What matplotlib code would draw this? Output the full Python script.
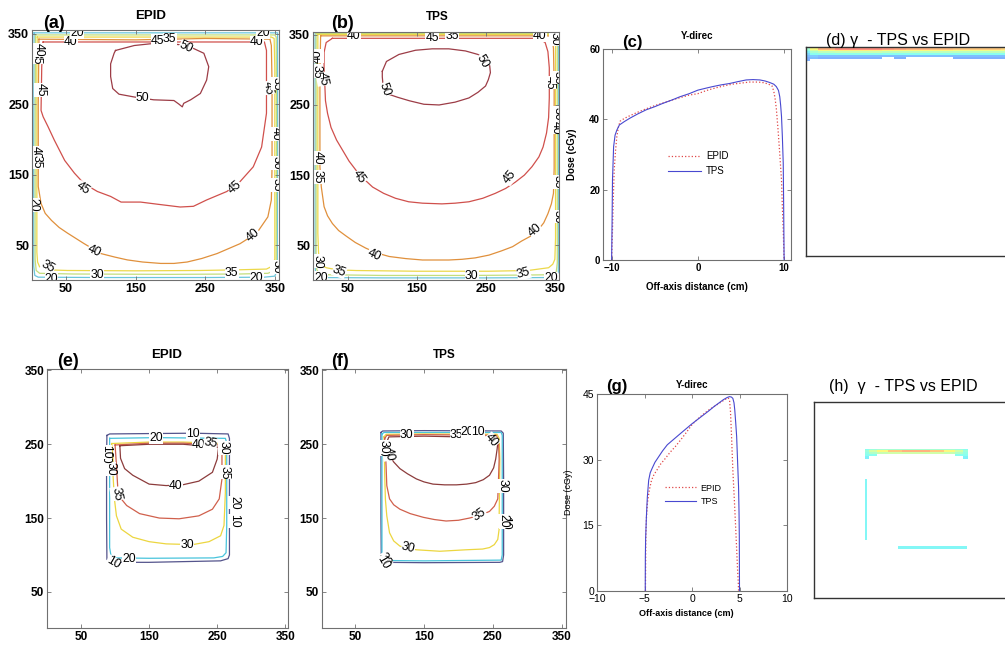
import numpy as np
import matplotlib
matplotlib.use('Agg')
import matplotlib.pyplot as plt
from matplotlib.colors import Normalize

plt.rcParams['font.family'] = ['Liberation Sans', 'DejaVu Sans']

W, H = 1005, 647
nan = np.nan

# ---- isodose lines, EPID 20x20 field (a) ----
a_50 = [(121, 326), (148, 333), (186, 337), (224, 333), (248, 322), (255, 303), (252, 284), (243, 265),
        (229, 256), (219, 251), (217, 246), (212, 250), (205, 255), (176, 256), (148, 260), (126, 264),
        (117, 272), (114, 289), (114, 307), (119, 322), (121, 326)]
a_45 = [(17, 338), (15, 303), (14, 241), (17, 232), (24, 218), (33, 199), (48, 170), (62, 152), (76, 137),
        (95, 126), (114, 119), (129, 111), (157, 111), (181, 108), (214, 104), (233, 105), (252, 114),
        (281, 126), (300, 140), (319, 161), (331, 189), (338, 237), (338, 279), (338, 326), (335, 338),
        (17, 338)]
a_40 = [(11, 342), (10, 250), (10, 208), (10, 133), (14, 109), (20, 95), (29, 85), (40, 75), (52, 67),
        (76, 52), (100, 38), (120, 33), (138, 29), (160, 26), (186, 24), (205, 24), (224, 26), (245, 31),
        (267, 38), (300, 52), (324, 67), (340, 90), (345, 114), (346, 160), (346, 208), (346, 280),
        (345, 333), (343, 342), (250, 343), (150, 341), (11, 342)]
a_35 = [(8.5, 345), (8, 300), (8, 150), (8, 40), (9, 26), (12, 19), (20, 15), (52, 14), (150, 13.5),
        (243, 14), (300, 15), (338, 16), (346, 20), (350, 30), (350, 150), (350, 300), (349, 343),
        (345, 345), (8.5, 345)]
a_30 = [(6, 348), (5.5, 200), (5.5, 30), (7, 14), (12, 10), (60, 9), (200, 8.5), (300, 9), (340, 10),
        (350, 14), (352, 25), (352.5, 200), (352, 345), (350, 348), (6, 348)]
a_20 = [(4, 351), (3.5, 200), (3.5, 20), (5, 7), (10, 4.5), (100, 4), (250, 4), (335, 4.5), (350, 6),
        (353.5, 15), (354, 200), (354, 351), (4, 351)]
a_labels = [(57, 338, '40', 0), (66, 351, '20', 0), (324, 338, '40', 0), (333, 351, '20', 0),
            (182, 340, '45', 0), (199, 342, '35', 0), (160, 259, '50', 0), (222, 330, '50', -25),
            (13, 270, '45', -90), (8, 316, '35', -90), (10, 327, '40', -90), (6, 181, '40', -90),
            (7, 168, '35', -90), (3, 107, '20', -90), (74, 130, '45', -35), (293, 132, '45', 40),
            (340, 273, '45', -80), (353, 279, '35', -90), (351, 208, '40', -90), (352, 166, '30', -90),
            (352, 135, '35', -90), (90, 41, '40', -25), (319, 64, '40', 40), (24, 19, '35', -30),
            (95, 8, '30', 0), (288, 10, '35', 0), (29, 2, '20', 0), (324, 4, '20', 0), (352, 19, '30', -90)]

# ---- isodose lines, TPS 20x20 field (b) ----
b_50 = [(100, 298), (106, 312), (124, 322), (148, 328), (172, 330), (196, 330), (220, 327), (238, 322),
        (249, 315), (255, 306), (256, 296), (253, 286), (249, 277), (238, 268), (225, 260), (205, 254),
        (182, 250), (160, 251), (139, 256), (122, 261), (110, 265), (103, 272), (101, 279), (100, 290),
        (100, 298)]
b_45 = [(28, 345), (19, 339), (16, 325), (16, 303), (17, 280), (18, 256), (21, 238), (26, 218), (34, 200),
        (43, 185), (52, 170), (62, 157), (74, 144), (86, 133), (102, 124), (119, 117), (138, 112),
        (158, 110), (186, 109), (205, 110), (225, 112), (245, 117), (263, 124), (278, 131), (292, 140),
        (305, 150), (316, 162), (326, 176), (332, 190), (337, 210), (340, 232), (341, 260), (341, 303),
        (339, 326), (335, 339), (325, 345), (28, 345)]
b_40 = [(11, 348.5), (10, 300), (10, 200), (10, 162), (12, 133), (16, 105), (21, 92), (28, 81), (37, 71),
        (48, 63), (61, 54), (76, 46), (92, 39), (110, 34), (134, 31), (158, 29), (196, 29), (215, 30),
        (234, 32), (254, 36), (272, 42), (288, 48), (301, 56), (314, 63), (325, 72), (333, 82), (339, 95),
        (344, 109), (347, 124), (348, 160), (348, 208), (348, 280), (347, 331), (345, 346), (340, 348.5),
        (11, 348.5)]
b_35 = [(7, 350.5), (7, 200), (7, 67), (8, 40), (9, 29), (12, 22), (19, 18), (35, 15), (62, 14), (150, 13),
        (253, 13), (310, 14), (340, 18), (346, 23), (349, 30), (350, 60), (350, 200), (350, 345),
        (348, 350.5), (7, 350.5)]
b_30 = [(4.5, 352), (4.5, 200), (4.5, 30), (5.5, 15), (9, 10), (20, 8), (100, 7), (229, 7), (300, 7.5),
        (345, 8), (351, 12), (352.5, 25), (352.5, 200), (352.5, 345), (351, 352), (4.5, 352)]
b_20 = [(3, 353.5), (3, 20), (4, 7), (8, 4), (100, 3.5), (250, 3.5), (340, 4), (351, 6), (354, 12),
        (354, 353.5), (3, 353.5)]
b_labels = [(59, 348, '40', 0), (172, 346, '45', 0), (201, 349, '35', 0), (327, 348, '40', 0),
            (349, 344, '30', -90), (244, 312, '50', -60), (103, 272, '50', -70), (14, 287, '45', -80),
            (7, 320, '40', 90), (5, 298, '35', -90), (7, 175, '40', -90), (6, 147, '35', -90),
            (67, 147, '45', -55), (284, 147, '45', 50), (342, 282, '45', -90), (353, 289, '35', -90),
            (351, 218, '40', -90), (353, 238, '30', -90), (353, 140, '35', -90), (353, 91, '30', -90),
            (88, 36, '40', -25), (320, 72, '40', 40), (7, 27, '30', -90), (38, 13, '35', -20),
            (229, 6, '30', 0), (304, 10, '35', 15), (12, 4, '20', 0), (344, 3, '20', 0)]

# ---- isodose lines, EPID 10x10 field (e) ----
e_40 = [(107, 248), (108, 231), (114, 217), (126, 208), (150, 196), (175, 194), (199, 195), (223, 200),
        (243, 212), (250, 230), (252, 246), (200, 250), (150, 250), (107, 248)]
e_35 = [(100, 249), (102, 222), (104, 190), (109, 176), (117, 167), (136, 156), (165, 150), (194, 149),
        (223, 153), (243, 162), (253, 176), (257, 203), (257, 235), (256, 249), (200, 251.5), (150, 251.5),
        (100, 249)]
e_30 = [(95, 251), (97, 230), (97, 208), (99, 176), (102, 153), (109, 135), (126, 124), (150, 118),
        (175, 115), (214, 114), (238, 118), (255, 126), (260, 140), (262, 185), (262, 240), (259, 251),
        (200, 253), (150, 253), (95, 251)]
e_20 = [(92, 258), (160, 259), (262, 258), (264, 252), (264, 200), (264, 140), (263, 103), (258, 98),
        (245, 96), (150, 95.5), (100, 96), (94, 99), (92, 110), (92, 200), (92, 258)]
e_10 = [(88, 262), (92, 264), (150, 264.5), (215, 265), (266, 264), (268, 258), (268, 200), (268, 140),
        (268, 100), (266, 95), (255, 92), (150, 90), (98, 90), (92, 91), (88, 94), (87.5, 150),
        (87.5, 230), (88, 262)]
e_labels = [(160, 259, '20', 0), (215, 264, '10', 0), (223, 249, '40', 0), (240, 251, '35', -10),
            (260, 245, '30', -90), (261, 212, '35', -90), (275, 171, '20', -90), (275, 146, '10', -90),
            (189, 193, '40', 0), (206, 114, '30', 0), (121, 95, '20', 0), (97, 89, '10', -30),
            (102, 183, '35', -80), (93, 217, '30', -90), (86, 233, '20', -90), (87, 240, '10', -90)]

# ---- isodose lines, TPS 10x10 field (f) ----
f_40 = [(96, 253), (98, 243), (100, 235), (106, 226), (115, 217), (126, 210), (139, 203), (150, 199),
        (163, 196), (180, 195), (197, 195), (212, 196), (225, 198), (236, 202), (245, 208), (251, 218),
        (254, 230), (256, 243), (257, 251), (254, 259), (150, 261), (99, 260), (96, 253)]
f_35 = [(93, 258), (95, 220), (96, 194), (100, 176), (106, 168), (115, 162), (130, 156), (149, 151),
        (165, 148), (182, 146), (200, 147), (216, 150), (232, 154), (245, 159), (252, 166), (257, 176),
        (258, 200), (259, 230), (258, 255), (255, 262), (150, 263), (96, 262), (93, 258)]
f_30 = [(92, 260), (93, 208), (94, 175), (96, 153), (100, 130), (106, 119), (115, 112), (127, 109),
        (139, 107), (173, 105), (211, 107), (235, 108), (245, 110), (252, 114), (257, 121), (259, 135),
        (259, 149), (260, 230), (259, 258), (256, 263.5), (150, 264), (95, 263.5), (92, 260)]
f_20 = [(89, 264), (92, 266), (262, 266), (263.5, 262), (263.5, 100), (262, 93), (150, 92), (92, 92.5),
        (89, 95), (89, 264)]
f_10 = [(87.5, 266), (90, 268), (150, 268.5), (262, 268), (265, 265), (265.5, 200), (265.5, 100),
        (264, 91), (260, 90), (150, 89.5), (92, 90), (88, 92), (87.5, 150), (87.5, 266)]
f_labels = [(125, 263, '30', 0), (197, 263, '35', 0), (213, 266, '20', 0), (228, 266, '10', 0),
            (248, 255, '40', -50), (99, 237, '40', -80), (89, 243, '20', -90), (92, 246, '30', -90),
            (264, 194, '30', -90), (230, 155, '35', 35), (127, 109, '30', -15), (268, 144, '10', -90),
            (265, 146, '20', -90), (93, 94, '20', -60), (91, 90, '10', -60)]

# ---- Y-direction dose profiles (cGy) ----
c_x_tps = [-10, -9.95, -9.9, -9.77, -9.6, -9.4, -9.1, -8.5, -7.9, -7, -6, -5, -4.1, -3, -2.1, -1, 0, 1,
           1.7, 2.7, 3.7, 4.6, 5.6, 6.4, 7.2, 7.8, 8.3, 8.8, 9.1, 9.35, 9.5, 9.6, 9.7, 9.8, 9.9, 9.95, 10]
c_y_tps = [0, 10, 22.7, 32.2, 35.5, 36.9, 38.4, 39.4, 40.3, 41.5, 42.7, 43.6, 44.5, 45.5, 46.4, 47.3, 48.3,
           48.9, 49.3, 49.8, 50.2, 50.7, 51.2, 51.3, 51.2, 50.9, 50.5, 50.0, 49.3, 48.2, 46.4, 44, 40.8,
           35, 27.5, 15, 0]
c_x_epid = [-10, -9.9, -9.8, -9.7, -9.55, -9.4, -9.2, -9.0, -8.5, -8, -7, -6, -5, -4, -3, -2, -1, 0, 1,
            2, 3, 4, 5, 6, 7, 7.7, 8.2, 8.6, 8.8, 8.95, 9.1, 9.3, 9.5, 9.7, 9.8, 9.9, 10]
c_y_epid = [0, 8.5, 18, 25.6, 31, 35, 38, 39.5, 40.3, 40.9, 42, 43, 43.9, 44.7, 45.5, 46.2, 46.9, 47.3,
            48.2, 48.9, 49.5, 50.0, 50.3, 50.6, 50.6, 50.4, 50.0, 49.5, 48, 46, 43, 37, 30, 22.7, 15,
            8.5, 0]

g_x_tps = [-4.92, -4.91, -4.88, -4.8, -4.7, -4.56, -4.4, -4.2, -3.9, -3.5, -3.1, -2.6, -1.9, -1.2, -0.6,
           0, 0.6, 1.2, 1.8, 2.3, 2.8, 3.3, 3.7, 3.95, 4.15, 4.3, 4.42, 4.5, 4.6, 4.7, 4.8, 4.9, 4.95,
           4.98, 5.0]
g_y_tps = [0, 7.8, 12, 17, 21.5, 25.3, 27, 28, 29.4, 30.7, 32, 33.4, 34.7, 36, 37.1, 38.2, 39.2, 40.2,
           41.2, 42.1, 42.9, 43.7, 44.2, 44.4, 44.3, 44.0, 43, 41.4, 38.5, 35.3, 29.5, 23.8, 18, 12.4, 0]
g_x_epid = [-4.9, -4.88, -4.86, -4.8, -4.7, -4.5, -4.26, -4.0, -3.7, -3.3, -2.8, -2.3, -1.75, -1.2, -0.6,
            0, 0.6, 1.2, 1.8, 2.3, 2.8, 3.3, 3.6, 3.75, 3.85, 3.95, 4.05, 4.15, 4.3, 4.43, 4.56, 4.68,
            4.8, 4.87, 4.9]
g_y_epid = [0, 6, 12.4, 16.5, 20, 23, 25.3, 26.6, 27.6, 29, 30.3, 31.7, 33, 34.5, 36.2, 38, 39.3, 40.4,
            41.4, 42.1, 42.8, 43.5, 43.9, 44.1, 44, 43.6, 41, 36, 27.6, 22, 16.2, 10.5, 4.7, 2, 0]

# ---- gamma index maps (image rows/cols) ----
d_cols = [0, 8, 20, 50, 90, 130, 150, 170, 210, 250, 290, 330, 354]
d_rows = [2, 5, 8, 11, 14, 17, 20, 24]
d_gamma = [[0.9, 1.3, 1.6, 1.75, 1.75, 1.7, 1.65, 1.6, 1.55, 1.5, 1.5, 1.45],
           [0.8, 1.1, 1.3, 1.35, 1.35, 1.3, 1.3, 1.3, 1.3, 1.25, 1.25, 1.25],
           [0.7, 0.9, 1.0, 1.05, 1.05, 1.0, 1.0, 1.0, 1.0, 1.0, 1.0, 1.0],
           [0.6, 0.75, 0.78, 0.78, 0.78, 0.75, 0.75, 0.75, 0.75, 0.75, 0.75, 0.75],
           [0.5, 0.55, 0.5, 0.5, 0.5, 0.5, 0.5, 0.5, 0.5, 0.5, 0.5, 0.5],
           [0.45, 0.5, 0.45, 0.45, 0.45, nan, 0.45, nan, nan, 0.45, 0.45, 0.45],
           [0.45, nan, nan, nan, nan, nan, nan, nan, nan, nan, nan, nan]]
h_cols = [92, 100, 115, 135, 160, 185, 210, 235, 255, 270, 278]
h_rows = [85, 88, 91, 94, 98, 103]
h_gamma = [[0.75, 0.85, 0.9, 0.9, 0.9, 0.9, 0.9, 0.9, 0.85, 0.75],
           [0.85, 1.1, 1.3, 1.5, 1.6, 1.6, 1.5, 1.3, 1.1, 0.85],
           [0.8, 0.95, 1.05, 1.1, 1.1, 1.1, 1.1, 1.05, 0.95, 0.8],
           [0.75, 0.75, nan, nan, nan, nan, nan, nan, 0.75, 0.75],
           [0.7, nan, nan, nan, nan, nan, nan, nan, nan, 0.7]]
h_left_cols = [92, 96]
h_left_rows = [140, 250]
h_left_gamma = [[0.72]]
h_bottom_cols = [152, 276]
h_bottom_rows = [261, 266]
h_bottom_gamma = [[0.72]]

big_colors = {50: '#9c3c46', 45: '#d0504c', 40: '#e0903c', 35: '#ecd84a', 30: '#c4de7c', 20: '#6cc6dc'}
small_colors = {40: '#8c3c3c', 35: '#d0604c', 30: '#ecd640', 20: '#48c4dc', 10: '#54548c'}
frame = '#707070'


def box(l, t, r, b):
    return [l / W, 1 - b / H, (r - l) / W, (b - t) / H]


def put(fig, x, y, s, **kw):
    fig.text(x / W, 1 - y / H, s, ha='center', va='center', **kw)


def style(ax, size, bold):
    for sp in ax.spines.values():
        sp.set_color(frame)
        sp.set_linewidth(0.8)
    ax.tick_params(direction='in', top=True, right=True, length=3, width=0.6, color=frame,
                   labelsize=size, pad=2)
    for t in ax.get_xticklabels() + ax.get_yticklabels():
        t.set_fontweight('bold' if bold else 'normal')


def isodose(ax, lines, colors, labels, lim_x, lim_y):
    for lev, pts in lines.items():
        xs, ys = zip(*pts)
        ax.plot(xs, ys, color=colors[lev], lw=0.9, zorder=1.5)
    for x, y, s, r in labels:
        ax.text(x, y, s, rotation=r, ha='center', va='center', fontsize=8.8, zorder=2,
                rotation_mode='anchor', clip_on=True,
                bbox=dict(fc='white', ec='none', pad=0.1))
    ax.set_xlim(*lim_x)
    ax.set_ylim(*lim_y)
    ax.set_xticks([50, 150, 250, 350])
    ax.set_yticks([50, 150, 250, 350])


def profile(ax, xe, ye, xt, yt, size, bold, fs_leg, leg_xy):
    ax.plot(xe, ye, ':', color='#e04848', lw=0.9, label='EPID')
    ax.plot(xt, yt, '-', color='#4848d0', lw=0.8, label='TPS')
    ax.legend(frameon=False, loc='upper left', bbox_to_anchor=leg_xy, fontsize=fs_leg,
              handlelength=3.4, handletextpad=0.5, labelspacing=0.5, borderpad=0, borderaxespad=0)
    style(ax, size, bold)


def gamma(ax, pieces):
    cmap = plt.cm.jet
    norm = Normalize(0, 2)
    for cols, rows, vals in pieces:
        ax.pcolormesh(cols, rows, np.ma.masked_invalid(np.array(vals)), cmap=cmap, norm=norm,
                      alpha=0.5, shading='flat', edgecolors='none')
    ax.set_xlim(0.5, 354.5)
    ax.set_ylim(354.5, 0.5)
    ax.set_xticks([])
    ax.set_yticks([])
    for sp in ax.spines.values():
        sp.set_color('#333333')
        sp.set_linewidth(1.0)


fig = plt.figure(figsize=(W / 100, H / 100), dpi=100)

# (a) EPID, large field
ax = fig.add_axes(box(32, 30, 279, 280))
isodose(ax, {20: a_20, 30: a_30, 35: a_35, 40: a_40, 45: a_45, 50: a_50}, big_colors, a_labels,
        (1, 356), (0.5, 355))
style(ax, 9, True)

# (b) TPS, large field
ax = fig.add_axes(box(313, 32, 559, 280))
isodose(ax, {20: b_20, 30: b_30, 35: b_35, 40: b_40, 45: b_45, 50: b_50}, big_colors, b_labels,
        (0, 355), (0.5, 354))
style(ax, 9, True)

# (c) profile, large field
ax = fig.add_axes(box(603, 49, 791, 260))
ax.set_xlim(-11, 10.8)
ax.set_ylim(0, 60)
ax.set_xticks([-10, 0, 10])
ax.set_yticks([0, 20, 40, 60])
profile(ax, c_x_epid, c_y_epid, c_x_tps, c_y_tps, 7, True, 7, (0.345, 0.515))
ax.set_xlabel('Off-axis distance (cm)', fontsize=7, fontweight='bold')
ax.set_ylabel('Dose (cGy)', fontsize=7, fontweight='bold')
ax.xaxis.set_label_coords(0.5, -0.105)
ax.yaxis.set_label_coords(-0.138, 0.5)

# (d) gamma, large field
ax = fig.add_axes(box(806, 47, 1015, 256))
gamma(ax, [(d_cols, d_rows, d_gamma)])

# (e) EPID, small field
ax = fig.add_axes(box(47, 369, 288, 628))
isodose(ax, {10: e_10, 20: e_20, 30: e_30, 35: e_35, 40: e_40}, small_colors, e_labels,
        (0, 354), (1, 352))
style(ax, 8.5, True)

# (f) TPS, small field
ax = fig.add_axes(box(322, 369, 566, 628))
isodose(ax, {10: f_10, 20: f_20, 30: f_30, 35: f_35, 40: f_40}, small_colors, f_labels,
        (2, 356), (1, 352))
style(ax, 8.5, True)

# (g) profile, small field
ax = fig.add_axes(box(597, 394, 787, 591))
ax.set_xlim(-10, 10)
ax.set_ylim(0, 45)
ax.set_xticks([-10, -5, 0, 5, 10])
ax.set_yticks([0, 15, 30, 45])
profile(ax, g_x_epid, g_y_epid, g_x_tps, g_y_tps, 7.5, False, 6.5, (0.36, 0.545))
ax.set_xlabel('Off-axis distance (cm)', fontsize=6.5, fontweight='bold')
ax.set_ylabel('Dose (cGy)', fontsize=6.5)
ax.xaxis.set_label_coords(0.47, -0.09)
ax.yaxis.set_label_coords(-0.126, 0.5)

# (h) gamma, small field
ax = fig.add_axes(box(814, 402, 1010, 598))
gamma(ax, [(h_cols, h_rows, h_gamma), (h_left_cols, h_left_rows, h_left_gamma),
           (h_bottom_cols, h_bottom_rows, h_bottom_gamma)])

# panel letters and titles
put(fig, 54, 24, '(a)', fontsize=13, fontweight='bold')
put(fig, 151, 16, 'EPID', fontsize=9.5, fontweight='bold')
put(fig, 343, 24, '(b)', fontsize=13, fontweight='bold')
put(fig, 437, 17, 'TPS', fontsize=8.5, fontweight='bold')
put(fig, 632, 42, '(c)', fontsize=12, fontweight='bold')
put(fig, 697, 36, 'Y-direc', fontsize=7, fontweight='bold')
put(fig, 898, 40, '(d) \u03b3  - TPS vs EPID', fontsize=11.5)
put(fig, 68, 362, '(e)', fontsize=13, fontweight='bold')
put(fig, 167, 355, 'EPID', fontsize=9.5, fontweight='bold')
put(fig, 340, 362, '(f)', fontsize=13, fontweight='bold')
put(fig, 444, 355, 'TPS', fontsize=8.5, fontweight='bold')
put(fig, 617, 386, '(g)', fontsize=12, fontweight='bold')
put(fig, 692, 385, 'Y-direc', fontsize=7, fontweight='bold')
put(fig, 903, 386, '(h)  \u03b3  - TPS vs EPID', fontsize=11.5)

fig.savefig('out.png', dpi=100)
